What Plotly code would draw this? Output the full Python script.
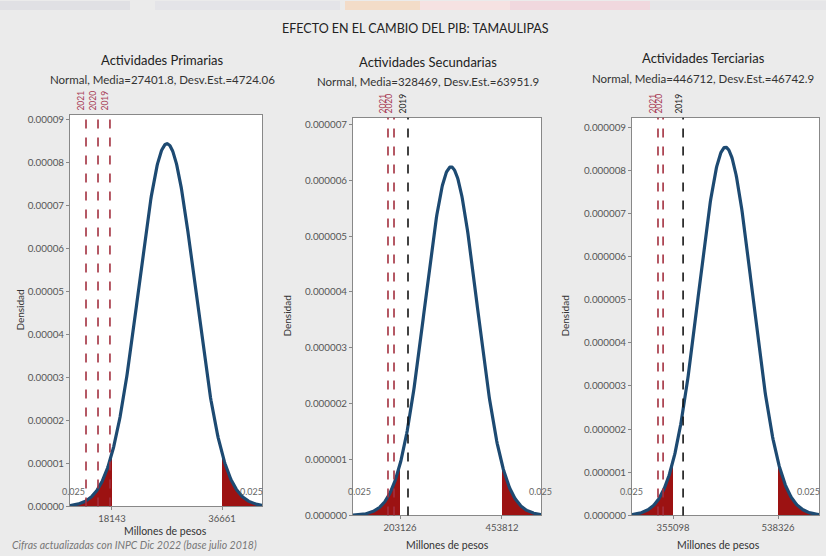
import numpy as np
import plotly.graph_objects as go

W, H = 826, 556

# ---- data ----
panel_titles = ["Actividades Primarias", "Actividades Secundarias", "Actividades Terciarias"]
means = [27401.8, 328469.0, 446712.0]
sds = [4724.06, 63951.9, 46742.9]
mean_labels = ["27401.8", "328469", "446712"]
sd_labels = ["4724.06", "63951.9", "46742.9"]
q_low = [18143, 203126, 355098]
q_high = [36661, 453812, 538326]
tail_prob = ["0.025", "0.025"]
years = ["2021", "2020", "2019"]
year_values = [
    [13770, 15790, 17800],
    [173600, 188400, 222800],
    [328900, 337800, 372700],
]
x_ranges = [[11075, 43393], [87600, 549700], [283550, 609870]]
y_max = [0.0000912, 0.00000712, 0.00000922]
y_dtick = [0.00001, 0.000001, 0.000001]
y_fmt = [".5f", ".6f", ".6f"]

# ---- layout (pixels) ----
dom_px = [(70, 262, 115, 511), (353, 541, 118, 520), (632, 819, 118, 520)]
title_cx = [162, 428, 703]
title_y = [60, 62, 58]
sub_y = [79, 81, 78]
dens_x = [20, 287, 565]
xt_pos = [(165, 536), (447, 550), (718, 550)]
tail_lbl = [(73, 251, 496), (359, 540, 496), (631, 808, 496)]

def px(x):
    return x / W

def py(y):
    return 1 - y / H

CURVE = "#1d4a72"
FILL = "#9c1212"
RED = "#a3303f"
FONT = "Lato"

fig = go.Figure()
annotations = []
shapes = []

def txt(x, y, text, size, color="#222", angle=0, xanchor="center", yanchor="middle"):
    annotations.append(dict(x=px(x), y=py(y), xref="paper", yref="paper", text=text,
                            textangle=angle, showarrow=False, xanchor=xanchor, yanchor=yanchor,
                            font=dict(family=FONT, size=size, color=color)))

for i in range(3):
    xa = "x" if i == 0 else f"x{i+1}"
    ya = "y" if i == 0 else f"y{i+1}"
    m, s = means[i], sds[i]
    x0, x1 = x_ranges[i]
    xs = np.linspace(x0, x1, 400)
    pdf = lambda v: np.exp(-0.5 * ((v - m) / s) ** 2) / (s * np.sqrt(2 * np.pi))
    # tails
    xl = np.linspace(x0, q_low[i], 120)
    xr = np.linspace(q_high[i], x1, 120)
    for xt in (xl, xr):
        fig.add_trace(go.Scatter(x=xt, y=pdf(xt), mode="lines", line=dict(width=0),
                                 fill="tozeroy", fillcolor=FILL, xaxis=xa, yaxis=ya,
                                 hoverinfo="skip", showlegend=False))
    fig.add_trace(go.Scatter(x=xs, y=pdf(xs), mode="lines",
                             line=dict(color=CURVE, width=3.2), xaxis=xa, yaxis=ya,
                             showlegend=False))
    # year lines
    for j, yv in enumerate(year_values[i]):
        is_red = (j < 2) or (i == 0)
        col = RED if is_red else "#151515"
        shapes.append(dict(type="line", xref=xa, yref=f"{ya} domain", x0=yv, x1=yv,
                           y0=0, y1=1, line=dict(color=col, width=1.6, dash="dash")))
        annotations.append(dict(x=yv, xref=xa, y=py(dom_px[i][2]) + 0.004, yref="paper",
                                text=years[j], textangle=-90, showarrow=False,
                                xanchor="right", yanchor="bottom", xshift=2,
                                font=dict(family=FONT, size=8.5,
                                          color=("#a83a55" if is_red else "#222"))))
    l, r, t, b = dom_px[i]
    xaxis = dict(domain=[px(l), px(r)], range=x_ranges[i], anchor=ya,
                 tickvals=[q_low[i], q_high[i]], ticktext=[str(q_low[i]), str(q_high[i])],
                 showgrid=False, zeroline=False, showline=True, mirror=True,
                 linecolor="#888", linewidth=1, ticks="outside", ticklen=3,
                 tickcolor="#888", tickfont=dict(family=FONT, size=9.5, color="#555"))
    yaxis = dict(domain=[py(b), py(t)], range=[0, y_max[i]], anchor=xa,
                 dtick=y_dtick[i], tick0=0, tickformat=y_fmt[i],
                 showgrid=False, zeroline=False, showline=True, mirror=True,
                 linecolor="#888", linewidth=1, ticks="outside", ticklen=3,
                 tickcolor="#888", tickfont=dict(family=FONT, size=9.8, color="#555"))
    fig.update_layout(**{("xaxis" if i == 0 else f"xaxis{i+1}"): xaxis,
                         ("yaxis" if i == 0 else f"yaxis{i+1}"): yaxis})
    # titles
    txt(title_cx[i], title_y[i], panel_titles[i], 13)
    txt(title_cx[i], sub_y[i], f"Normal, Media={mean_labels[i]}, Desv.Est.={sd_labels[i]}", 11.5, "#333")
    txt(dens_x[i], (t + b) / 2, "Densidad", 10, "#333", angle=-90)
    txt(xt_pos[i][0], xt_pos[i][1], "Millones de pesos", 10.5, "#333")
    tl = tail_lbl[i]
    txt(tl[0], tl[2], tail_prob[0], 9, "#666")
    txt(tl[1], tl[2], tail_prob[1], 9, "#666")

txt(415, 28, "EFECTO EN EL CAMBIO DEL PIB: TAMAULIPAS", 12.5)
txt(10, 550, "<i>Cifras actualizadas con INPC Dic 2022 (base julio 2018)</i>", 10.5, "#777",
    xanchor="left")

# faint banner at the top of the page
for (a, bb, c) in [(0, 130, "#e0e0e4"), (155, 340, "#e4e4e8"), (345, 420, "#f3dcc8"),
                   (420, 510, "#f6e2e2"), (510, 650, "#f0d8de"), (650, 826, "#e6e6e8")]:
    shapes.append(dict(type="rect", xref="paper", yref="paper", x0=px(a), x1=px(bb),
                       y0=py(9), y1=1, fillcolor=c, line=dict(width=0), layer="below"))

fig.update_layout(width=W, height=H, margin=dict(l=0, r=0, t=0, b=0),
                  paper_bgcolor="#ebebeb", plot_bgcolor="white",
                  annotations=annotations, shapes=shapes, showlegend=False)
fig.write_html("out.html", config={"displayModeBar": False},
               post_script="document.body.style.margin='0';document.body.style.overflow='hidden';")
